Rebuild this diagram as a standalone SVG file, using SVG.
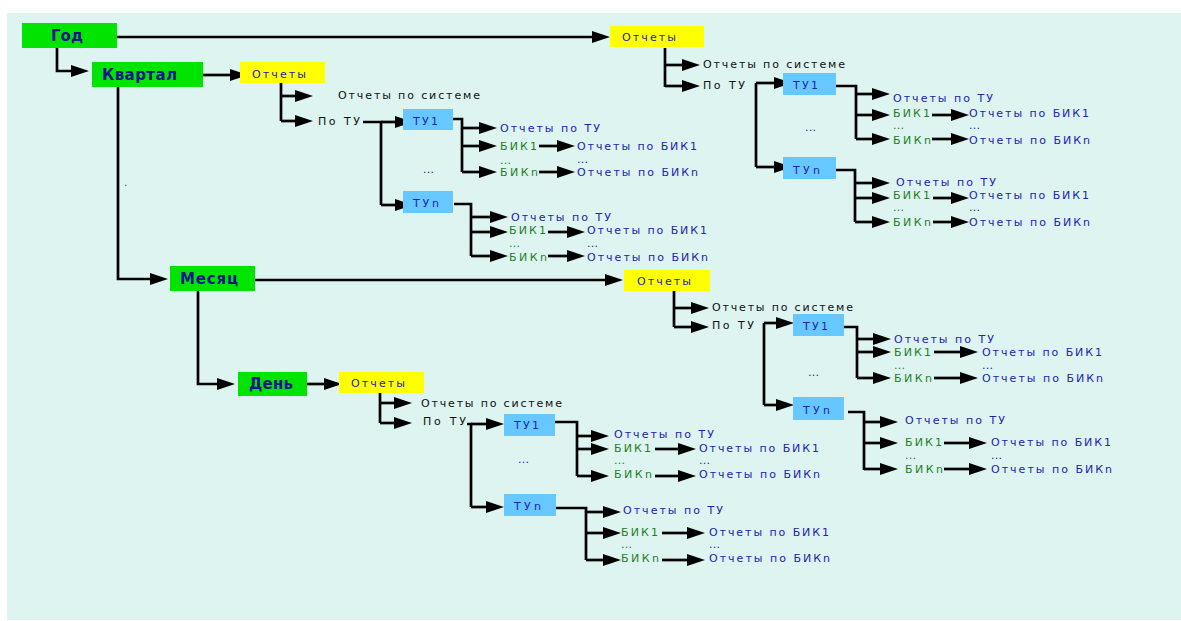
<svg xmlns="http://www.w3.org/2000/svg" width="1181" height="621" viewBox="0 0 1181 621">
<style>
.c{stroke:#000;stroke-width:2.7;fill:none}
.a{marker-end:url(#ah)}
.t{font-family:"DejaVu Sans","Liberation Sans",sans-serif;font-size:11px}
.bk{fill:#111}.bl{fill:#2222b0}.gr{fill:#1f7f1f}
.nb{font-family:"DejaVu Sans","Liberation Sans",sans-serif;font-weight:bold;font-size:15px;fill:#14148c}
.g{fill:#00e400}.y{fill:#ffff00}.u{fill:#66c8ff}
</style>
<defs>
<marker id="ah" markerUnits="userSpaceOnUse" markerWidth="18" markerHeight="12" viewBox="0 0 18 12" refX="2" refY="6" orient="auto"><path d="M0,0 L18,6 L0,12 z" fill="#000"/></marker>
</defs>
<rect x="7" y="13" width="1174" height="607" fill="#ddf4f0"/>
<text x="124" y="186" class="t" fill="#555" font-size="8">.</text>

<g id="connectors">
<path class="c a" d="M117,37 H594"/>
<path class="c a" d="M57,48 V71 H73"/>
<path class="c a" d="M203,75 H232"/>
<path class="c" d="M281,83 V121"/>
<path class="c a" d="M281,96 H297"/>
<path class="c a" d="M281,121 H297"/>
<path class="c" d="M363,122 H381 V205"/>
<path class="c a" d="M381,122 H397"/>
<path class="c a" d="M381,205 H397"/>
<path class="c" d="M453,119 H462 V172"/>
<path class="c a" d="M462,128 H481"/>
<path class="c a" d="M462,146 H481"/>
<path class="c a" d="M462,172 H481"/>
<path class="c a" d="M539,146 H559"/>
<path class="c a" d="M539,172 H559"/>
<path class="c" d="M454,204 H471 V256"/>
<path class="c a" d="M471,217 H492"/>
<path class="c a" d="M471,232 H492"/>
<path class="c a" d="M471,256 H492"/>
<path class="c a" d="M548,232 H569"/>
<path class="c a" d="M548,256 H569"/>
<path class="c" d="M665,48 V87"/>
<path class="c a" d="M665,65 H684"/>
<path class="c a" d="M665,86 H684"/>
<path class="c" d="M756,83 V167"/>
<path class="c a" d="M756,83 H776"/>
<path class="c a" d="M756,167 H776"/>
<path class="c" d="M832,86 H856 V139"/>
<path class="c a" d="M856,94 H874"/>
<path class="c a" d="M856,115 H874"/>
<path class="c a" d="M856,139 H874"/>
<path class="c a" d="M932,115 H953"/>
<path class="c a" d="M932,139 H953"/>
<path class="c" d="M830,170 H855 V222"/>
<path class="c a" d="M855,183 H874"/>
<path class="c a" d="M855,198 H874"/>
<path class="c a" d="M855,222 H874"/>
<path class="c a" d="M933,198 H953"/>
<path class="c a" d="M933,222 H953"/>
<path class="c a" d="M118,87 V279 H152"/>
<path class="c a" d="M255,280 H607"/>
<path class="c" d="M674,291 V327"/>
<path class="c a" d="M674,308 H693"/>
<path class="c a" d="M674,327 H693"/>
<path class="c" d="M764,323 V405"/>
<path class="c a" d="M764,323 H778"/>
<path class="c a" d="M764,405 H778"/>
<path class="c" d="M841,327 H857 V378"/>
<path class="c a" d="M857,339 H875"/>
<path class="c a" d="M857,352 H875"/>
<path class="c a" d="M857,378 H875"/>
<path class="c a" d="M934,352 H962"/>
<path class="c a" d="M934,378 H962"/>
<path class="c" d="M848,412 H864 V470"/>
<path class="c a" d="M864,422 H882"/>
<path class="c a" d="M864,443 H882"/>
<path class="c a" d="M864,469 H882"/>
<path class="c a" d="M944,443 H971"/>
<path class="c a" d="M944,469 H971"/>
<path class="c a" d="M198,291 V384 H219"/>
<path class="c a" d="M307,384 H326"/>
<path class="c" d="M380,393 V423"/>
<path class="c a" d="M380,403 H396"/>
<path class="c a" d="M380,423 H396"/>
<path class="c" d="M467,424 H471 V507"/>
<path class="c a" d="M471,424 H488"/>
<path class="c a" d="M471,507 H488"/>
<path class="c" d="M552,422 H577 V476"/>
<path class="c a" d="M577,436 H593"/>
<path class="c a" d="M577,449 H593"/>
<path class="c a" d="M577,476 H593"/>
<path class="c a" d="M655,449 H680"/>
<path class="c a" d="M655,476 H680"/>
<path class="c" d="M556,508 H586 V560"/>
<path class="c a" d="M586,512 H605"/>
<path class="c a" d="M586,533 H605"/>
<path class="c a" d="M586,560 H605"/>
<path class="c a" d="M662,533 H689"/>
<path class="c a" d="M662,560 H689"/>
</g>

<g id="god"><rect class="g" x="22" y="23" width="95" height="25"/><text class="nb" x="51" y="41" textLength="32">Год</text></g>
<g id="kvartal"><rect class="g" x="92" y="62" width="111" height="25"/><text class="nb" x="102" y="80" textLength="75">Квартал</text></g>
<g id="mesyats"><rect class="g" x="170" y="266" width="85" height="25"/><text class="nb" x="180" y="284" textLength="58">Месяц</text></g>
<g id="den"><rect class="g" x="238" y="372" width="69" height="24"/><text class="nb" x="249" y="389" textLength="44">День</text></g>

<g id="god-otchety"><rect class="y" x="610" y="26" width="94" height="21"/><text class="t bl" x="622" y="41" textLength="54">Отчеты</text></g>
<g id="kv-otchety"><rect class="y" x="240" y="62" width="85" height="21"/><text class="t bl" x="252" y="78" textLength="54">Отчеты</text></g>
<g id="ms-otchety"><rect class="y" x="624" y="270" width="86" height="21"/><text class="t bl" x="637" y="285" textLength="54">Отчеты</text></g>
<g id="dn-otchety"><rect class="y" x="339" y="372" width="85" height="21"/><text class="t bl" x="351" y="387" textLength="54">Отчеты</text></g>

<!-- Квартал subtree -->
<g id="kv-sys"><text class="t bk" x="338" y="99" textLength="142">Отчеты по системе</text></g>
<g id="kv-potu"><text class="t bk" x="318" y="125" textLength="42">По ТУ</text></g>
<g id="kv-tu1"><rect class="u" x="403" y="109" width="50" height="21"/><text class="t bl" x="413" y="125" textLength="25">ТУ1</text></g>
<g id="kv-tun"><rect class="u" x="403" y="191" width="50" height="22"/><text class="t bl" x="413" y="207" textLength="26">ТУn</text></g>
<g id="kv-dots"><text class="t bl" x="423" y="173" textLength="11">...</text></g>
<g id="kv-tu1-leaves">
<text class="t bl" x="500" y="132" textLength="100">Отчеты по ТУ</text>
<text class="t gr" x="500" y="150" textLength="37">БИК1</text>
<text class="t gr" x="500" y="164" textLength="11">...</text>
<text class="t gr" x="500" y="176" textLength="38">БИКn</text>
<text class="t bl" x="577" y="150" textLength="120">Отчеты по БИК1</text>
<text class="t bl" x="577" y="163" textLength="11">...</text>
<text class="t bl" x="577" y="176" textLength="121">Отчеты по БИКn</text>
</g>
<g id="kv-tun-leaves">
<text class="t bl" x="511" y="221" textLength="100">Отчеты по ТУ</text>
<text class="t gr" x="509" y="234" textLength="37">БИК1</text>
<text class="t gr" x="509" y="247" textLength="11">...</text>
<text class="t gr" x="509" y="261" textLength="38">БИКn</text>
<text class="t bl" x="587" y="234" textLength="120">Отчеты по БИК1</text>
<text class="t bl" x="587" y="247" textLength="11">...</text>
<text class="t bl" x="587" y="261" textLength="121">Отчеты по БИКn</text>
</g>

<!-- Год subtree -->
<g id="gd-sys"><text class="t bk" x="703" y="68" textLength="142">Отчеты по системе</text></g>
<g id="gd-potu"><text class="t bk" x="703" y="89" textLength="42">По ТУ</text></g>
<g id="gd-tu1"><rect class="u" x="783" y="73" width="53" height="22"/><text class="t bl" x="793" y="89" textLength="25">ТУ1</text></g>
<g id="gd-tun"><rect class="u" x="783" y="157" width="53" height="22"/><text class="t bl" x="793" y="174" textLength="27">ТУn</text></g>
<g id="gd-dots"><text class="t bl" x="805" y="131" textLength="11">...</text></g>
<g id="gd-tu1-leaves">
<text class="t bl" x="893" y="102" textLength="100">Отчеты по ТУ</text>
<text class="t gr" x="893" y="117" textLength="37">БИК1</text>
<text class="t gr" x="893" y="129" textLength="11">...</text>
<text class="t gr" x="893" y="144" textLength="38">БИКn</text>
<text class="t bl" x="969" y="117" textLength="120">Отчеты по БИК1</text>
<text class="t bl" x="969" y="129" textLength="11">...</text>
<text class="t bl" x="969" y="144" textLength="121">Отчеты по БИКn</text>
</g>
<g id="gd-tun-leaves">
<text class="t bl" x="896" y="186" textLength="100">Отчеты по ТУ</text>
<text class="t gr" x="893" y="199" textLength="37">БИК1</text>
<text class="t gr" x="893" y="211" textLength="11">...</text>
<text class="t gr" x="893" y="226" textLength="38">БИКn</text>
<text class="t bl" x="969" y="199" textLength="120">Отчеты по БИК1</text>
<text class="t bl" x="969" y="211" textLength="11">...</text>
<text class="t bl" x="969" y="226" textLength="121">Отчеты по БИКn</text>
</g>

<!-- Месяц subtree -->
<g id="ms-sys"><text class="t bk" x="712" y="311" textLength="141">Отчеты по системе</text></g>
<g id="ms-potu"><text class="t bk" x="712" y="329" textLength="42">По ТУ</text></g>
<g id="ms-tu1"><rect class="u" x="793" y="314" width="51" height="22"/><text class="t bl" x="803" y="330" textLength="25">ТУ1</text></g>
<g id="ms-tun"><rect class="u" x="793" y="397" width="51" height="23"/><text class="t bl" x="803" y="414" textLength="27">ТУn</text></g>
<g id="ms-dots"><text class="t bl" x="808" y="376" textLength="11">...</text></g>
<g id="ms-tu1-leaves">
<text class="t bl" x="894" y="343" textLength="100">Отчеты по ТУ</text>
<text class="t gr" x="894" y="356" textLength="37">БИК1</text>
<text class="t gr" x="894" y="369" textLength="11">...</text>
<text class="t gr" x="894" y="382" textLength="38">БИКn</text>
<text class="t bl" x="982" y="356" textLength="120">Отчеты по БИК1</text>
<text class="t bl" x="982" y="369" textLength="11">...</text>
<text class="t bl" x="982" y="382" textLength="121">Отчеты по БИКn</text>
</g>
<g id="ms-tun-leaves">
<text class="t bl" x="905" y="424" textLength="100">Отчеты по ТУ</text>
<text class="t gr" x="905" y="446" textLength="37">БИК1</text>
<text class="t gr" x="905" y="459" textLength="11">...</text>
<text class="t gr" x="905" y="473" textLength="38">БИКn</text>
<text class="t bl" x="991" y="446" textLength="120">Отчеты по БИК1</text>
<text class="t bl" x="991" y="459" textLength="11">...</text>
<text class="t bl" x="991" y="473" textLength="121">Отчеты по БИКn</text>
</g>

<!-- День subtree -->
<g id="dn-sys"><text class="t bk" x="421" y="407" textLength="141">Отчеты по системе</text></g>
<g id="dn-potu"><text class="t bk" x="423" y="425" textLength="43">По ТУ</text></g>
<g id="dn-tu1"><rect class="u" x="504" y="414" width="51" height="22"/><text class="t bl" x="514" y="429" textLength="25">ТУ1</text></g>
<g id="dn-tun"><rect class="u" x="504" y="494" width="52" height="22"/><text class="t bl" x="514" y="510" textLength="27">ТУn</text></g>
<g id="dn-dots"><text class="t bl" x="518" y="463" textLength="11">...</text></g>
<g id="dn-tu1-leaves">
<text class="t bl" x="614" y="438" textLength="100">Отчеты по ТУ</text>
<text class="t gr" x="614" y="452" textLength="37">БИК1</text>
<text class="t gr" x="614" y="464" textLength="11">...</text>
<text class="t gr" x="614" y="478" textLength="38">БИКn</text>
<text class="t bl" x="699" y="452" textLength="120">Отчеты по БИК1</text>
<text class="t bl" x="699" y="464" textLength="11">...</text>
<text class="t bl" x="699" y="478" textLength="121">Отчеты по БИКn</text>
</g>
<g id="dn-tun-leaves">
<text class="t bl" x="623" y="514" textLength="100">Отчеты по ТУ</text>
<text class="t gr" x="621" y="536" textLength="37">БИК1</text>
<text class="t gr" x="621" y="548" textLength="11">...</text>
<text class="t gr" x="621" y="562" textLength="38">БИКn</text>
<text class="t bl" x="709" y="536" textLength="120">Отчеты по БИК1</text>
<text class="t bl" x="709" y="548" textLength="11">...</text>
<text class="t bl" x="709" y="562" textLength="121">Отчеты по БИКn</text>
</g>
</svg>
